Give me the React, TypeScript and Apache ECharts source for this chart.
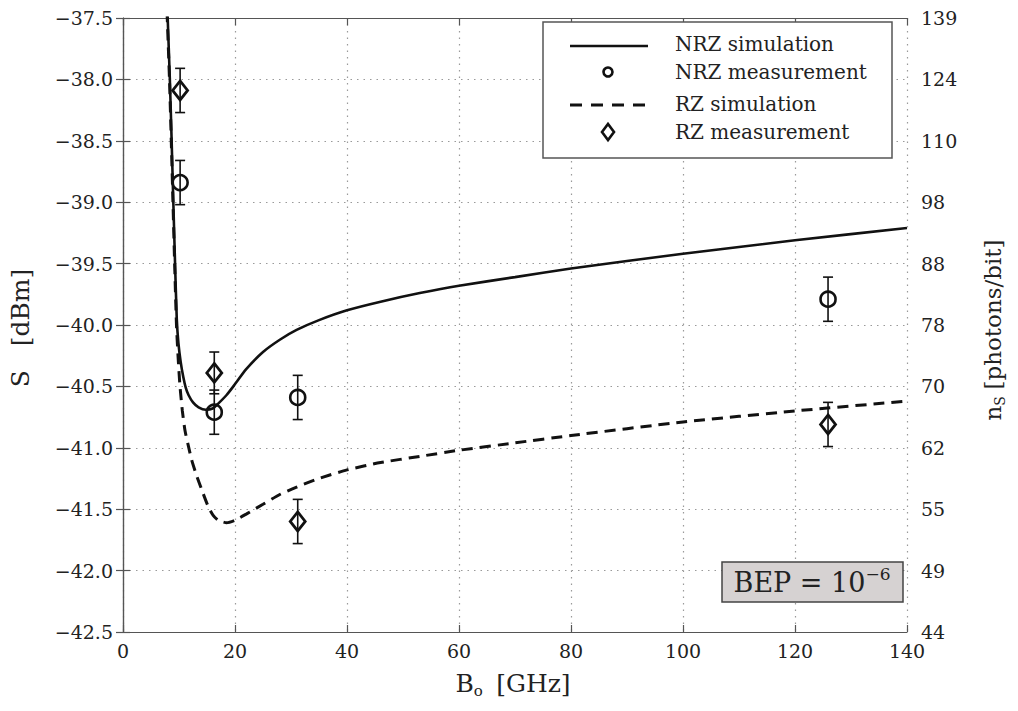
import React, { useEffect, useRef } from "react";
import * as echarts from "echarts";

// ---- data ----
const nrzSimX = [7.85, 7.98, 8.36, 8.68, 8.98, 9.29, 9.6, 9.9, 10.3, 10.75, 11.2, 11.7, 12.5, 13.5, 14.8, 16.0, 17.0, 18.5, 19.7, 22.0, 25.0, 28.0, 31.0, 35.0, 40.0, 46.0, 53.0, 60.0, 70.0, 80.0, 100.0, 120.0, 140.0];
const nrzSimY = [-37.3, -37.5, -37.99, -38.49, -38.99, -39.49, -39.95, -40.15, -40.3, -40.42, -40.51, -40.57, -40.63, -40.67, -40.69, -40.68, -40.64, -40.57, -40.5, -40.36, -40.22, -40.12, -40.04, -39.96, -39.88, -39.81, -39.74, -39.68, -39.61, -39.54, -39.42, -39.31, -39.21];

const rzSimX = [7.75, 7.9, 8.3, 8.62, 8.92, 9.22, 9.55, 9.85, 10.18, 10.6, 11.07, 11.6, 12.27, 13.1, 14.05, 15.23, 16.1, 17.02, 18.5, 20.0, 22.0, 25.0, 28.0, 31.0, 35.0, 40.0, 46.0, 53.0, 60.0, 70.0, 80.0, 100.0, 120.0, 140.0];
const rzSimY = [-37.3, -37.5, -38.0, -38.5, -39.0, -39.5, -40.0, -40.27, -40.5, -40.7, -40.86, -40.97, -41.1, -41.22, -41.34, -41.48, -41.55, -41.59, -41.61, -41.59, -41.54, -41.46, -41.38, -41.32, -41.25, -41.18, -41.12, -41.07, -41.02, -40.96, -40.9, -40.79, -40.7, -40.62];

const measX = [10.2, 16.3, 31.2, 125.9];
const nrzMeasY = [-38.84, -40.71, -40.59, -39.79];
const nrzMeasErr = [0.18, 0.18, 0.18, 0.18];
const rzMeasY = [-38.09, -40.39, -41.6, -40.81];
const rzMeasErr = [0.18, 0.17, 0.18, 0.18];

const leftTickLabels = ["−42.5", "−42.0", "−41.5", "−41.0", "−40.5", "−40.0", "−39.5", "−39.0", "−38.5", "−38.0", "−37.5"];
const rightTickLabels = ["44", "49", "55", "62", "70", "78", "88", "98", "110", "124", "139"];
const legendNames = ["NRZ simulation", "NRZ measurement", "RZ simulation", "RZ measurement"];

const FONT = "DejaVu Serif";
const INK = "#111";
const TXT = "#222";

export default function App() {
  const ref = useRef<HTMLDivElement>(null);
  useEffect(() => {
    document.body.style.margin = "0";
    const chart = echarts.init(ref.current!, null, { renderer: "svg" });
    const pair = (xs: number[], ys: number[]) => xs.map((x, i) => [x, ys[i]]);
    const errData = (ys: number[], es: number[]) => measX.map((x, i) => [x, ys[i] - es[i], ys[i] + es[i]]);
    const idx = (v: number) => Math.round((v + 42.5) / 0.5);
    const errRender = (params: any, api: any) => {
      const x = api.value(0);
      const p1 = api.coord([x, api.value(2)]);
      const p2 = api.coord([x, api.value(1)]);
      const w = 5;
      const st = { stroke: INK, lineWidth: 1.6 };
      return {
        type: "group",
        children: [
          { type: "line", shape: { x1: p1[0], y1: p1[1], x2: p2[0], y2: p2[1] }, style: st },
          { type: "line", shape: { x1: p1[0] - w, y1: p1[1], x2: p1[0] + w, y2: p1[1] }, style: st },
          { type: "line", shape: { x1: p2[0] - w, y1: p2[1], x2: p2[0] + w, y2: p2[1] }, style: st },
        ],
      };
    };
    const axisLineStyle = { color: "#555", width: 1.2 };
    const gridLine = { show: true, lineStyle: { color: "#9a9a9a", width: 1.2, type: [1.5, 5] as any } };
    const rowY = [44, 72, 104, 132];

    chart.setOption({
      animation: false,
      grid: { left: 123, top: 18, width: 784, height: 614 },
      xAxis: [
        {
          type: "value", min: 0, max: 140, interval: 20, position: "bottom",
          axisLine: { show: true, lineStyle: axisLineStyle },
          axisTick: { show: true, inside: true, length: 7, lineStyle: axisLineStyle },
          axisLabel: { fontFamily: FONT, fontSize: 19, color: TXT, margin: 9 },
          splitLine: gridLine,
        },
        {
          type: "value", min: 0, max: 140, interval: 20, position: "top",
          axisLine: { show: true, lineStyle: axisLineStyle },
          axisTick: { show: true, inside: true, length: 7, lineStyle: axisLineStyle },
          axisLabel: { show: false },
          splitLine: { show: false },
        },
      ],
      yAxis: [
        {
          type: "value", min: -42.5, max: -37.5, interval: 0.5, position: "left",
          axisLine: { show: true, lineStyle: axisLineStyle },
          axisTick: { show: true, inside: true, length: 7, lineStyle: axisLineStyle },
          axisLabel: { fontFamily: FONT, fontSize: 19, color: TXT, margin: 10, formatter: (v: number) => leftTickLabels[idx(v)] },
          splitLine: gridLine,
        },
        {
          type: "value", min: -42.5, max: -37.5, interval: 0.5, position: "right",
          axisLine: { show: true, lineStyle: axisLineStyle },
          axisTick: { show: true, inside: true, length: 7, lineStyle: axisLineStyle },
          axisLabel: { fontFamily: FONT, fontSize: 19, color: TXT, margin: 14, formatter: (v: number) => rightTickLabels[idx(v)] },
          splitLine: { show: false },
        },
      ],
      series: [
        {
          name: legendNames[0], type: "line", data: pair(nrzSimX, nrzSimY), showSymbol: false, symbol: "none",
          smooth: 0.2, lineStyle: { color: INK, width: 2.6 }, clip: true, z: 3,
        },
        {
          name: legendNames[2], type: "line", data: pair(rzSimX, rzSimY), showSymbol: false, symbol: "none",
          smooth: 0.2, lineStyle: { color: INK, width: 3, type: [11, 7] as any }, clip: true, z: 3,
        },
        { type: "custom", renderItem: errRender, data: errData(nrzMeasY, nrzMeasErr), encode: { x: 0, y: [1, 2] }, z: 4 },
        { type: "custom", renderItem: errRender, data: errData(rzMeasY, rzMeasErr), encode: { x: 0, y: [1, 2] }, z: 4 },
        {
          name: legendNames[1], type: "scatter", data: pair(measX, nrzMeasY), symbol: "circle", symbolSize: 15,
          itemStyle: { color: "rgba(0,0,0,0)", borderColor: INK, borderWidth: 2.6, opacity: 1 }, z: 5,
        },
        {
          name: legendNames[3], type: "scatter", data: pair(measX, rzMeasY), symbol: "diamond", symbolSize: [15, 19],
          itemStyle: { color: "rgba(0,0,0,0)", borderColor: INK, borderWidth: 2.8, opacity: 1 }, z: 5,
        },
      ],
      graphic: [
        // legend
        { type: "rect", shape: { x: 543, y: 22, width: 349, height: 136 }, style: { fill: "#fff", stroke: "#555", lineWidth: 1.5 }, z: 10 },
        { type: "line", shape: { x1: 570, y1: rowY[0] + 2, x2: 648, y2: rowY[0] + 2 }, style: { stroke: INK, lineWidth: 2.6 }, z: 11 },
        { type: "circle", shape: { cx: 608, cy: rowY[1], r: 4.5 }, style: { fill: "transparent", stroke: INK, lineWidth: 2.6 }, z: 11 },
        { type: "line", shape: { x1: 570, y1: rowY[2] + 1, x2: 648, y2: rowY[2] + 1 }, style: { stroke: INK, lineWidth: 3, lineDash: [12, 9] }, z: 11 },
        { type: "polygon", shape: { points: [[602, rowY[3]], [608, rowY[3] - 8], [614, rowY[3]], [608, rowY[3] + 8]] }, style: { fill: "transparent", stroke: INK, lineWidth: 2.6 }, z: 11 },
        ...legendNames.map((t, i) => ({
          type: "text", x: 675, y: rowY[i], z: 11,
          style: { text: t, fontFamily: FONT, fontSize: 20, fill: TXT, align: "left", verticalAlign: "middle" },
        })),
        // BEP box
        { type: "rect", shape: { x: 722, y: 562, width: 181, height: 40 }, style: { fill: "#d6d2d2", stroke: "#444", lineWidth: 1.5 }, z: 10 },
        {
          type: "text", x: 812, y: 582, z: 11,
          style: {
            text: "{n|BEP = 10}{s|−6}", align: "center", verticalAlign: "middle", fill: TXT,
            rich: {
              n: { fontFamily: FONT, fontSize: 27, fill: TXT, lineHeight: 34 },
              s: { fontFamily: FONT, fontSize: 17, fill: TXT, lineHeight: 17, verticalAlign: "top" },
            },
          },
        },
        // axis titles
        {
          type: "text", x: 513, y: 683, z: 11,
          style: {
            text: "{n|B}{s|o}    {n|[GHz]}", align: "center", verticalAlign: "middle", fill: TXT,
            rich: {
              n: { fontFamily: FONT, fontSize: 25, fill: TXT, lineHeight: 30 },
              s: { fontFamily: FONT, fontSize: 15, fill: TXT, lineHeight: 14, verticalAlign: "bottom" },
            },
          },
        },
        {
          type: "text", x: 20, y: 328, rotation: Math.PI / 2, z: 11,
          style: { text: "S   [dBm]", align: "center", verticalAlign: "middle", fill: TXT, fontFamily: FONT, fontSize: 25 },
        },
        {
          type: "text", x: 993, y: 330, rotation: Math.PI / 2, z: 11,
          style: {
            text: "{n|n}{s|S}  {n|[photons/bit]}", align: "center", verticalAlign: "middle", fill: TXT,
            rich: {
              n: { fontFamily: FONT, fontSize: 23, fill: TXT, lineHeight: 28 },
              s: { fontFamily: FONT, fontSize: 14, fill: TXT, lineHeight: 13, verticalAlign: "bottom" },
            },
          },
        },
      ],
    });
    return () => chart.dispose();
  }, []);
  return <div ref={ref} style={{ width: 1018, height: 711 }} />;
}
